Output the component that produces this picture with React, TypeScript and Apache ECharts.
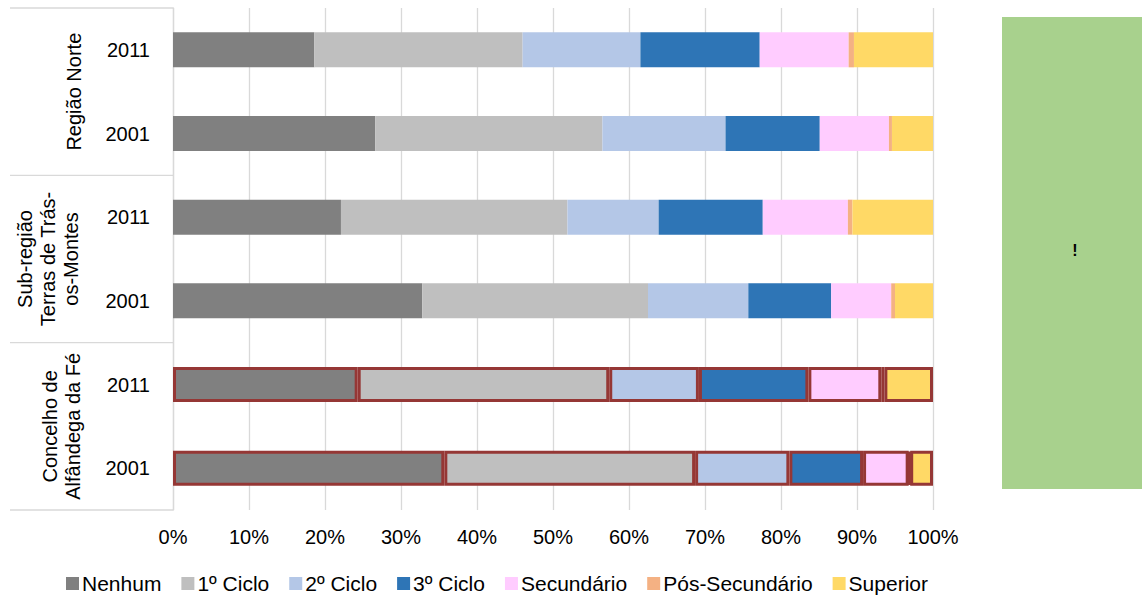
import React, { useEffect, useRef } from "react";
import * as echarts from "echarts";

// Row labels, top to bottom
const years = ["2011", "2001", "2011", "2001", "2011", "2001"];
const groups = ["Região Norte", "Sub-região\nTerras de Trás-\nos-Montes", "Concelho de\nAlfândega da Fé"];
const levels = ["Nenhum", "1º Ciclo", "2º Ciclo", "3º Ciclo", "Secundário", "Pós-Secundário", "Superior"];
const xTicks = [0, 10, 20, 30, 40, 50, 60, 70, 80, 90, 100];

// Share of population by education level (%), one value per row
const nenhum = [18.6, 26.6, 22.1, 32.8, 24.3, 35.7];
const ciclo1 = [27.4, 29.9, 29.8, 29.7, 33.1, 33.0];
const ciclo2 = [15.5, 16.2, 12.0, 13.2, 11.8, 12.4];
const ciclo3 = [15.7, 12.4, 13.7, 10.9, 14.4, 9.7];
const secundario = [11.7, 9.1, 11.2, 7.9, 9.6, 6.0];
const posSecundario = [0.7, 0.4, 0.6, 0.5, 0.4, 0.2];
const superior = [10.4, 5.4, 10.6, 5.0, 6.4, 3.0];

const seriesValues = [nenhum, ciclo1, ciclo2, ciclo3, secundario, posSecundario, superior];
const colors = ["#808080", "#bfbfbf", "#b4c7e7", "#2e75b6", "#ffccff", "#f4b183", "#ffd966"];
const highlightRows = [4, 5];

const FONT = "'Liberation Sans', Arial, sans-serif";
const FS = 20;

export default function App() {
  const ref = useRef<HTMLDivElement>(null);

  useEffect(() => {
    if (!ref.current) return;
    const chart = echarts.init(ref.current, undefined, { renderer: "svg" });

    const gridTop = 8;
    const gridBottom = 510;
    const groupH = (gridBottom - gridTop) / 3;
    const sepColor = "#d9d9d9";

    const graphics: any[] = [];
    for (let i = 0; i <= 3; i++) {
      const y = gridTop + groupH * i;
      graphics.push({
        type: "line",
        shape: { x1: 10, y1: y, x2: 173, y2: y },
        style: { stroke: sepColor, lineWidth: 1.3 },
        silent: true,
      });
    }
    const groupX = [74, 48, 61];
    groups.forEach((g, i) => {
      graphics.push({
        type: "text",
        x: groupX[i],
        y: gridTop + groupH * (i + 0.5),
        rotation: Math.PI / 2,
        style: {
          text: g,
          font: `${FS}px ${FONT}`,
          fill: "#000",
          align: "center",
          verticalAlign: "middle",
          lineHeight: 23,
        },
      });
    });
    // side panel
    graphics.push({
      type: "rect",
      shape: { x: 1002, y: 17, width: 140, height: 472 },
      style: { fill: "#a8d18d" },
      silent: true,
    });
    graphics.push({
      type: "text",
      x: 1075,
      y: 250,
      style: {
        text: "!",
        font: `bold 16px ${FONT}`,
        fill: "#000",
        align: "center",
        verticalAlign: "middle",
      },
    });

    chart.setOption({
      animation: false,
      textStyle: { fontFamily: FONT },
      grid: { left: 173, right: 209, top: gridTop, bottom: 596 - gridBottom, containLabel: false },
      legend: {
        data: levels,
        left: 61,
        top: 568,
        itemWidth: 13,
        itemHeight: 13,
        itemGap: 20,
        icon: "rect",
        textStyle: { fontSize: 21, color: "#000", fontFamily: FONT, padding: [0, 0, 0, -2] },
      },
      xAxis: {
        type: "value",
        min: 0,
        max: 100,
        interval: 10,
        axisLine: { show: false },
        axisTick: { show: false },
        splitLine: { lineStyle: { color: sepColor, width: 1.3 } },
        axisLabel: {
          fontSize: FS,
          color: "#000",
          margin: 17,
          formatter: (v: number) => (xTicks.includes(v) ? `${v}%` : ""),
        },
      },
      yAxis: {
        type: "category",
        inverse: true,
        data: years,
        axisLine: { show: true, lineStyle: { color: sepColor, width: 1.3 } },
        axisTick: { show: false },
        axisLabel: { fontSize: FS, color: "#000", margin: 23 },
      },
      series: levels.map((name, si) => ({
        name,
        type: "bar",
        stack: "total",
        barWidth: 35,
        itemStyle: { color: colors[si] },
        data: seriesValues[si].map((v, ri) =>
          highlightRows.includes(ri)
            ? { value: v, itemStyle: { color: colors[si], borderColor: "#953735", borderWidth: 3 } }
            : v
        ),
      })),
      graphic: graphics,
    });

    return () => chart.dispose();
  }, []);

  return (
    <div
      ref={ref}
      style={{ position: "fixed", left: 0, top: 0, width: 1142, height: 596, background: "#fff" }}
    />
  );
}
